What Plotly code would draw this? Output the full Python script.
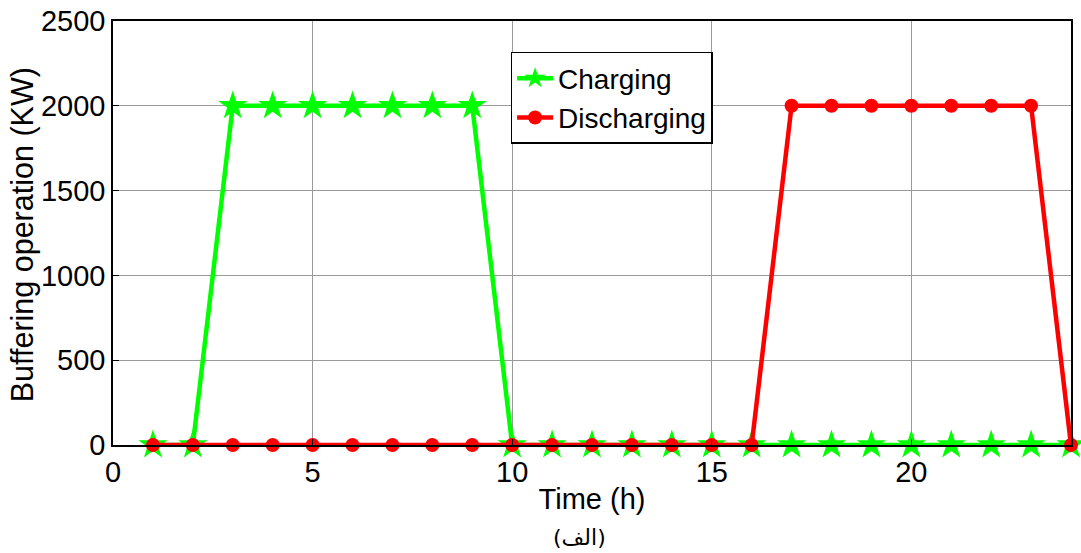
import plotly.graph_objects as go

hours = list(range(1, 25))
charging = [0, 0, 2000, 2000, 2000, 2000, 2000, 2000, 2000, 0, 0, 0, 0, 0, 0, 0, 0, 0, 0, 0, 0, 0, 0, 0]
discharging = [0, 0, 0, 0, 0, 0, 0, 0, 0, 0, 0, 0, 0, 0, 0, 0, 2000, 2000, 2000, 2000, 2000, 2000, 2000, 0]
x_ticks = [0, 5, 10, 15, 20]
y_ticks = [0, 500, 1000, 1500, 2000, 2500]

font = "Liberation Sans, Arial, sans-serif"

fig = go.Figure()
fig.add_trace(go.Scatter(
    x=hours, y=charging, name="Charging", mode="lines+markers",
    line=dict(color="#00ff00", width=4.5),
    marker=dict(symbol="star", size=22, color="#00ff00"),
    cliponaxis=False,
))
fig.add_trace(go.Scatter(
    x=hours, y=discharging, name="Discharging", mode="lines+markers",
    line=dict(color="#ff0000", width=4.5),
    marker=dict(symbol="circle", size=14, color="#ff0000"),
    cliponaxis=False,
))

fig.update_layout(
    width=1081, height=553,
    margin=dict(l=113, r=10, t=21, b=108),
    plot_bgcolor="white", paper_bgcolor="white",
    font=dict(family=font, color="black", size=29),
    showlegend=True,
    legend=dict(
        x=0.415, y=0.927, xanchor="left", yanchor="top",
        bgcolor="white", bordercolor="black", borderwidth=1.5,
        font=dict(size=28, family=font), tracegroupgap=0,
        itemwidth=36,
    ),
    xaxis=dict(
        range=[0, 24], tickvals=x_ticks, ticktext=[str(v) for v in x_ticks],
        showgrid=True, gridcolor="#9a9a9a", gridwidth=1,
        showline=True, linecolor="black", linewidth=1.5, mirror=True,
        ticks="inside", ticklen=6, tickcolor="black",
        zeroline=False, automargin=False, ticklabeloverflow="allow",
        tickfont=dict(size=29),
        title=dict(text="Time (h)", font=dict(size=29), standoff=2),
    ),
    yaxis=dict(
        range=[0, 2500], tickvals=y_ticks, ticktext=[str(v) for v in y_ticks],
        showgrid=True, gridcolor="#9a9a9a", gridwidth=1,
        showline=True, linecolor="black", linewidth=1.5, mirror=True,
        ticks="inside", ticklen=6, tickcolor="black",
        zeroline=False, automargin=False, ticklabeloverflow="allow",
        tickfont=dict(size=29),
    ),
    annotations=[
        dict(
            text="Buffering operation (KW)", xref="paper", yref="paper",
            x=-0.095, y=0.497, xanchor="center", yanchor="middle",
            textangle=-90, showarrow=False, font=dict(size=30.5, family=font),
        ),
        dict(
            text="(الف)", xref="paper", yref="paper", x=0.487, y=-0.217,
            xanchor="center", yanchor="middle", showarrow=False,
            font=dict(size=22, family="DejaVu Sans, sans-serif"),
        ),
    ],
)

fig.write_html(
    "out.html",
    config={"displayModeBar": False},
    post_script="document.body.style.margin='0';",
)
